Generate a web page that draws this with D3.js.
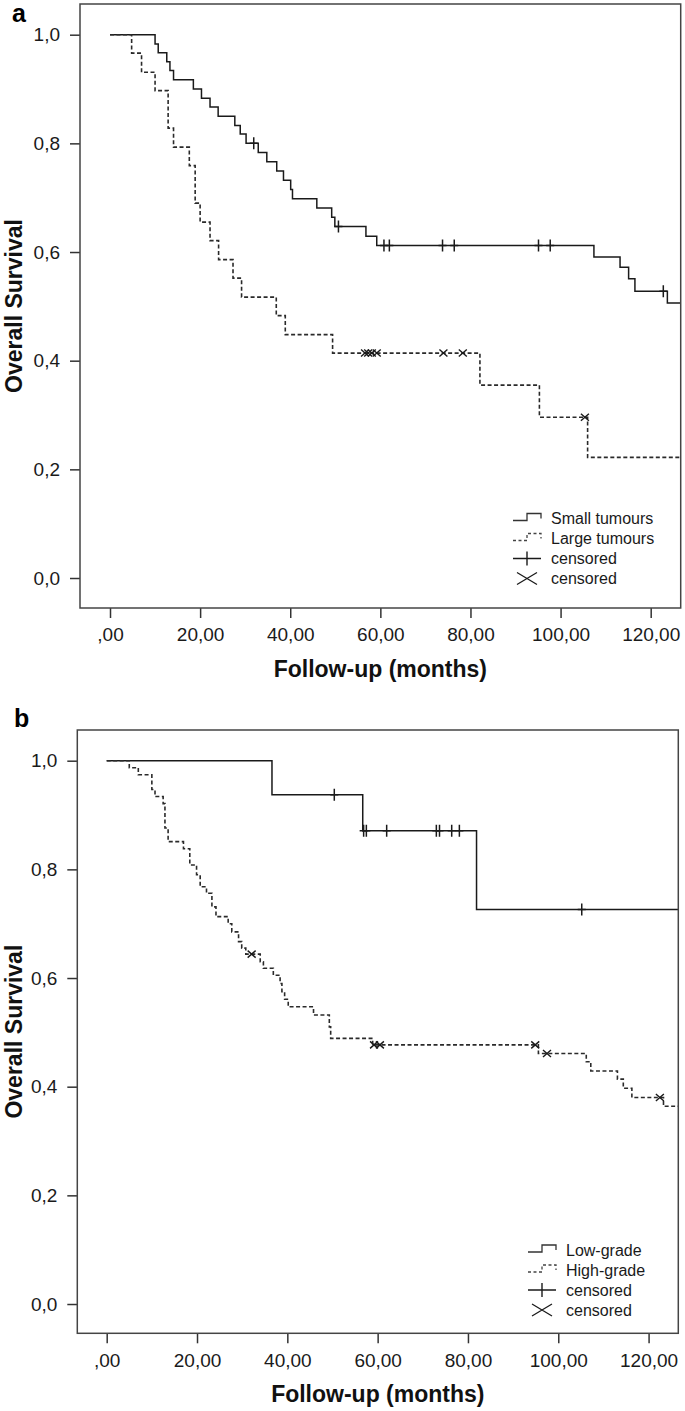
<!DOCTYPE html>
<html>
<head>
<meta charset="utf-8">
<script src="https://cdn.jsdelivr.net/npm/d3@7"></script>
<style>
  html, body { margin: 0; padding: 0; background: #fff; }
  svg { display: block; }
  text { font-family: Arial, "Liberation Sans", sans-serif; }
</style>
</head>
<body>
<svg id="chart" width="685" height="1411"></svg>
<script>
// ---------------- DATA ----------------
const xTicks = [0, 20, 40, 60, 80, 100, 120];
const yTicks = [0, 0.2, 0.4, 0.6, 0.8, 1.0];

// Panel a — Small tumours (solid): [time, survival after event]
const aSmallSteps = [
  [10.0, 0.983], [10.7, 0.967], [12.6, 0.950], [13.3, 0.934], [14.1, 0.917],
  [18.5, 0.900], [20.3, 0.883], [22.2, 0.867], [24.0, 0.850], [27.7, 0.833],
  [28.9, 0.817], [30.2, 0.800], [32.9, 0.783], [34.8, 0.766], [37.0, 0.749],
  [38.5, 0.732], [40.1, 0.715], [40.5, 0.698], [45.9, 0.681], [49.2, 0.664],
  [49.9, 0.647], [56.8, 0.629], [59.2, 0.612], [107.4, 0.591], [113.2, 0.572],
  [115.1, 0.551], [116.5, 0.528], [123.7, 0.506]
];
const aSmallCensor = [
  [31.9, 0.800], [50.7, 0.647], [60.8, 0.612], [62.0, 0.612], [73.8, 0.612],
  [76.4, 0.612], [95.1, 0.612], [97.7, 0.612], [122.8, 0.528]
];
// Panel a — Large tumours (dashed)
const aLargeSteps = [
  [4.8, 0.966], [7.0, 0.931], [10.0, 0.897], [12.9, 0.828], [14.1, 0.793],
  [17.6, 0.759], [18.9, 0.690], [20.0, 0.655], [22.2, 0.621], [24.1, 0.586],
  [27.3, 0.552], [29.2, 0.517], [36.9, 0.483], [38.9, 0.448], [49.4, 0.414],
  [82.1, 0.355], [95.3, 0.296], [106.0, 0.222]
];
const aLargeCensor = [
  [56.6, 0.414], [57.3, 0.414], [58.1, 0.414], [59.2, 0.414], [74.0, 0.414],
  [78.3, 0.414], [105.4, 0.296]
];

// Panel b — Low-grade (solid)
const bLowSteps = [[36.6, 0.9375], [56.7, 0.871], [81.9, 0.726]];
const bLowCensor = [
  [50.4, 0.9375], [56.9, 0.871], [57.5, 0.871], [62.0, 0.871], [73.0, 0.871],
  [73.7, 0.871], [76.4, 0.871], [78.1, 0.871], [105.2, 0.726]
];
// Panel b — High-grade (dashed)
const bHighSteps = [
  [5.0, 0.987], [7.0, 0.974], [10.0, 0.947], [10.7, 0.934], [12.5, 0.921],
  [12.9, 0.876], [13.6, 0.851], [17.0, 0.838], [18.4, 0.808], [19.9, 0.790],
  [20.7, 0.768], [22.1, 0.756], [23.3, 0.731], [24.2, 0.713], [26.9, 0.700],
  [27.7, 0.685], [29.2, 0.667], [29.9, 0.655], [30.8, 0.644], [34.0, 0.630],
  [34.7, 0.618], [36.9, 0.605], [38.4, 0.590], [38.8, 0.575], [39.4, 0.561],
  [40.2, 0.547], [45.8, 0.532], [49.3, 0.510], [49.6, 0.489], [58.9, 0.477],
  [95.6, 0.461], [106.2, 0.446], [107.2, 0.429], [113.1, 0.414], [114.4, 0.397],
  [116.3, 0.380], [123.3, 0.364]
];
const bHighCensor = [
  [32.1, 0.644], [59.2, 0.477], [60.5, 0.477], [94.9, 0.477], [97.5, 0.461],
  [122.5, 0.380]
];

const aLegend = ["Small tumours", "Large tumours", "censored", "censored"];
const bLegend = ["Low-grade", "High-grade", "censored", "censored"];

// ---------------- DRAW ----------------
const svg = d3.select("#chart");
const fmtY = d => d3.format(".1f")(d).replace(".", ",");
const fmtX = d => d === 0 ? ",00" : d3.format(".2f")(d).replace(".", ",");

function panel(cfg) {
  const g = svg.append("g");
  const x = d3.scaleLinear().domain(cfg.xDom).range([cfg.left, cfg.right]);
  const y = d3.scaleLinear().domain(cfg.yDom).range([cfg.bottom, cfg.top]);

  // axes
  const ya = g.append("g").attr("transform", `translate(${cfg.left},0)`)
    .call(d3.axisLeft(y).tickValues(yTicks).tickFormat(fmtY).tickSize(10).tickPadding(10).tickSizeOuter(0));
  const xa = g.append("g").attr("transform", `translate(0,${cfg.bottom})`)
    .call(d3.axisBottom(x).tickValues(xTicks).tickFormat(fmtX).tickSize(10).tickPadding(10).tickSizeOuter(0));
  [ya, xa].forEach(a => {
    a.select(".domain").remove();
    a.selectAll(".tick line").attr("stroke", "#333").attr("stroke-width", 1.5);
    a.selectAll(".tick text").attr("fill", "#1a1a1a").style("font-size", "19px")
      .style("font-family", "Arial, 'Liberation Sans', sans-serif");
  });

  // clip
  const cid = "clip" + cfg.id;
  g.append("clipPath").attr("id", cid).append("rect")
    .attr("x", cfg.left).attr("y", cfg.top)
    .attr("width", cfg.right - cfg.left).attr("height", cfg.bottom - cfg.top);

  const line = d3.line().x(d => x(d[0])).y(d => y(d[1])).curve(d3.curveStepAfter);
  const xEnd = cfg.xDom[1];
  function curve(steps, dashed) {
    const pts = [[0, 1]].concat(steps);
    pts.push([xEnd, steps[steps.length - 1][1]]);
    g.append("path").attr("d", line(pts)).attr("clip-path", `url(#${cid})`)
      .attr("fill", "none").attr("stroke", dashed ? "#2a2a2a" : "#1a1a1a")
      .attr("stroke-width", dashed ? 1.6 : 1.5)
      .attr("stroke-dasharray", dashed ? "4,2.5" : null);
  }
  curve(cfg.solid, false);
  curve(cfg.dashed, true);

  // censor marks
  g.selectAll(null).data(cfg.solidCensor).enter().append("path")
    .attr("d", d => { const px = x(d[0]), py = y(d[1]);
      return `M${px - 4},${py}H${px + 4}M${px},${py - 6}V${py + 6}`; })
    .attr("stroke", "#1a1a1a").attr("stroke-width", 1.5).attr("fill", "none");
  g.selectAll(null).data(cfg.dashedCensor).enter().append("path")
    .attr("d", d => { const px = x(d[0]), py = y(d[1]);
      return `M${px - 4},${py - 3.5}L${px + 4},${py + 3.5}M${px - 4},${py + 3.5}L${px + 4},${py - 3.5}`; })
    .attr("stroke", "#1a1a1a").attr("stroke-width", 1.4).attr("fill", "none");

  // frame
  g.append("rect").attr("x", cfg.left).attr("y", cfg.top)
    .attr("width", cfg.right - cfg.left).attr("height", cfg.bottom - cfg.top)
    .attr("fill", "none").attr("stroke", "#444").attr("stroke-width", 1.5);

  // legend
  const lx = cfg.legX, ly = cfg.legY, ls = 20;
  const sx0 = lx - 38, sxm = lx - 24, sx1 = lx - 10;
  cfg.legend.forEach((t, i) => {
    const cy = ly + i * ls;
    g.append("text").attr("x", lx).attr("y", cy).attr("dy", "0.35em")
      .style("font-size", "16px").attr("fill", "#1a1a1a").text(t);
    if (i < 2) {
      g.append("path")
        .attr("d", `M${sx0},${cy + 2}H${sxm}V${cy - 5}H${sx1}V${cy}`)
        .attr("fill", "none").attr("stroke", i === 0 ? "#333" : "#444").attr("stroke-width", 1.3)
        .attr("stroke-dasharray", i === 1 ? "3,2.5" : null);
    } else if (i === 2) {
      g.append("path").attr("d", `M${sx0},${cy}H${sx1}M${sxm},${cy - 7}V${cy + 7}`)
        .attr("fill", "none").attr("stroke", "#1a1a1a").attr("stroke-width", 1.4);
    } else {
      g.append("path").attr("d", `M${sx0 + 4},${cy - 6}L${sx1 - 4},${cy + 6}M${sx0 + 4},${cy + 6}L${sx1 - 4},${cy - 6}`)
        .attr("fill", "none").attr("stroke", "#1a1a1a").attr("stroke-width", 1.3);
    }
  });

  // titles
  const cx = (cfg.left + cfg.right) / 2, cyy = (cfg.top + cfg.bottom) / 2;
  g.append("text").attr("x", cx).attr("y", cfg.bottom + 69).attr("text-anchor", "middle")
    .style("font-size", "23px").style("font-weight", "bold").attr("fill", "#111").text("Follow-up (months)");
  g.append("text").attr("transform", `translate(22,${cyy}) rotate(-90)`).attr("text-anchor", "middle")
    .style("font-size", "23px").style("font-weight", "bold").attr("fill", "#111").text("Overall Survival");
  g.append("text").attr("x", cfg.letterX).attr("y", cfg.letterY)
    .style("font-size", "25px").style("font-weight", "bold").attr("fill", "#000").text(cfg.letter);
}

panel({
  id: "a", letter: "a", letterX: 12, letterY: 22,
  left: 80, right: 680.7, top: 4, bottom: 608,
  xDom: [-6.66, 126.66], yDom: [-0.0552, 1.0565],
  solid: aSmallSteps, dashed: aLargeSteps, solidCensor: aSmallCensor, dashedCensor: aLargeCensor,
  legend: aLegend, legX: 551, legY: 518.5
});
panel({
  id: "b", letter: "b", letterX: 14, letterY: 727,
  left: 77.3, right: 678.3, top: 730, bottom: 1333.3,
  xDom: [-6.51, 126.58], yDom: [-0.0539, 1.0565],
  solid: bLowSteps, dashed: bHighSteps, solidCensor: bLowCensor, dashedCensor: bHighCensor,
  legend: bLegend, legX: 566, legY: 1250
});
</script>
</body>
</html>
